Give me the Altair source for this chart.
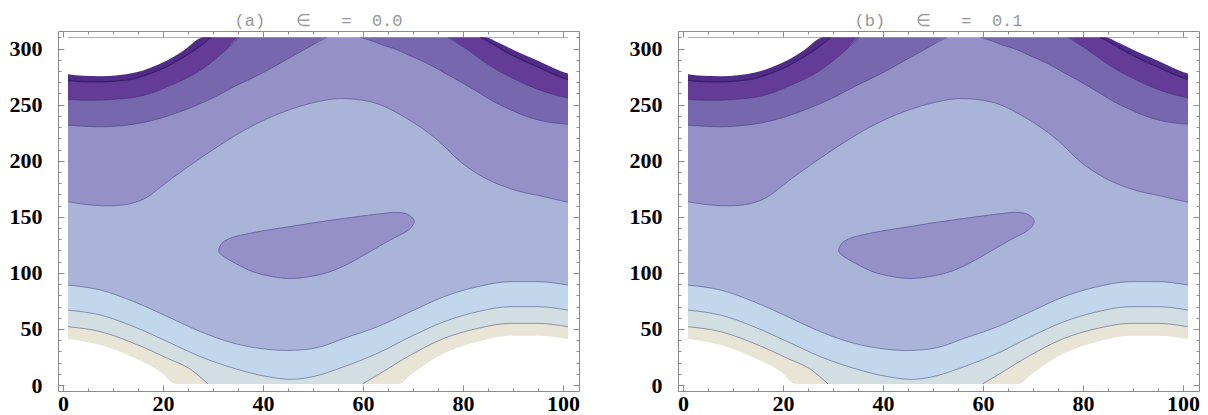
import altair as alt
import pandas as pd

# ---------------- data ----------------
TOP = 310          # upper edge of the contoured grid

NB = "\u00a0"
titles = ["(a)" + NB * 3 + "\u2208" + NB * 3 + "=" + NB * 2 + "0.0",
          "(b)" + NB * 3 + "\u2208" + NB * 3 + "=" + NB * 2 + "0.1"]

x_major = [0, 20, 40, 60, 80, 100]
x_minor = list(range(0, 101, 5))
y_major = [0, 50, 100, 150, 200, 250, 300]
y_minor = list(range(0, 311, 10))

# contour curves: each one is split into the pieces that are visible on the grid
c0_x = [[1, 4, 7.5, 11, 14.2, 17.5, 20.9, 24.2, 28], [84.5, 87, 90.2, 93.5, 96.9, 99, 101]]
c0_y = [[277.2, 275.8, 275.4, 276.3, 278.4, 283, 289.7, 298.6, 310], [310, 305.5, 298.6, 292, 285.2, 281, 277.8]]

c1_x = [[1, 4, 7.5, 11, 14.2, 17.5, 20.9, 24.2, 27, 29.5], [83.5, 86, 89.5, 92, 94.9, 98, 101]]
c1_y = [[271.8, 270.6, 270.4, 271.2, 273.3, 278, 284.3, 292.7, 301, 310], [310, 304, 295, 289.5, 283.8, 277.5, 272.5]]

c2_x = [[1, 4, 7.5, 11, 14.2, 17.5, 20.9, 24.2, 27.5, 30, 32.5, 35.2], [77, 79, 81.5, 84, 86.9, 90, 92.9, 97, 101]]
c2_y = [[254.6, 254, 254, 255, 256.4, 260, 266, 272.5, 280.7, 289, 298.5, 310], [310, 304.5, 297.1, 289, 280.7, 273.5, 267.4, 260.5, 256]]

c3_x = [[1, 4, 7.5, 11, 14.2, 17.5, 20.9, 24.2, 27.5, 30.9, 34.2, 37.5, 40.9, 44.2, 47.5, 50, 52.8],
        [59.5, 62, 64, 66.2, 69.5, 72.9, 76.2, 79.5, 82.9, 86.2, 89.5, 92.9, 97, 101]]
c3_y = [[231.7, 230.8, 230.3, 231, 232.6, 235.5, 239.8, 245, 251, 258, 266, 273, 280.7, 289, 297.1, 303.5, 310],
        [310, 306.5, 303, 300, 293.5, 286.7, 278.5, 270.4, 261.5, 252.6, 245.5, 239.2, 234.5, 232.6]]

c4_x = [[1, 4.2, 8.9, 12, 14.5, 17, 19.5, 22, 24.5, 30.9, 37.5, 44.2, 50.9, 55.5, 61.5, 68.2, 74.9, 79.5, 84.2,
         89.5, 96.2, 101]]
c4_y = [[163.4, 161.2, 159.8, 160.6, 163, 168, 176.5, 185, 193, 212.5, 230.3, 243.7, 252.6, 255.5, 252.6, 239.2,
         218.4, 199, 185, 175, 167.9, 163]]

c5_x = [[1, 7.5, 14.2, 20.9, 27.5, 34.2, 40.9, 44.5, 48, 51, 56.2, 62.9, 69.5, 76.2, 82.9, 89.5, 94.9, 101]]
c5_y = [[89.1, 84.7, 74.3, 61, 47.6, 37.2, 31.8, 30.8, 31.4, 33.5, 41.6, 52, 65.4, 78.8, 87.7, 92.2, 92.2, 89.1]]

c6_x = [[1, 7.5, 14.2, 20.9, 27.5, 34.2, 40.9, 45.5, 50, 56.2, 62.9, 69.5, 76.2, 82.9, 89.5, 94.9, 101]]
c6_y = [[66.8, 62.4, 52, 38.7, 25.3, 14.9, 7.5, 5.1, 7.5, 16.4, 28.3, 43.1, 56.5, 65.4, 69.9, 69.9, 66.8]]

c7_x = [[1, 7.5, 14.2, 20.9, 25.5, 29], [59.9, 62.9, 69.5, 76.2, 82.9, 89.5, 94.9, 101]]
c7_y = [[52, 47.6, 37.2, 23.8, 14, 1], [1, 8.9, 26.7, 41.6, 50.5, 55, 55, 52]]

c8_x = [[1, 7.5, 14.2, 19.5, 22.5], [67.2, 69.5, 76.2, 82.9, 89.5, 94.9, 101]]
c8_y = [[41, 35.7, 24.4, 11.9, 1], [1, 8.9, 28.3, 38.7, 44, 44, 41]]

# closed contour (island) in the middle
blob_x = [31.2, 31.8, 33, 35, 40, 45, 50, 55, 60, 64, 66.5, 68.8, 70.2, 69.8, 68.5, 65.5, 61, 57, 53, 49, 45.5,
          42, 38, 34.5, 32.2, 31.3]
blob_y = [121.5, 126.5, 130, 133, 137.5, 141, 144.6, 147.8, 150.8, 153, 154, 152.5, 147, 141.5, 136.5, 129.5, 118,
          108, 100.5, 96.5, 95.1, 96.6, 101, 108.5, 114.5, 118]

# fill colour of the region lying above each curve
levels = [
    ("c8", c8_x, c8_y, "#e8e5d6"),
    ("c7", c7_x, c7_y, "#d3dee2"),
    ("c6", c6_x, c6_y, "#c2d7ec"),
    ("c5", c5_x, c5_y, "#aab3d8"),
    ("c4", c4_x, c4_y, "#9590c7"),
    ("c3", c3_x, c3_y, "#7767ae"),
    ("c2", c2_x, c2_y, "#643c98"),
    ("c1", c1_x, c1_y, "#512c86"),
    ("c0", c0_x, c0_y, "#ffffff"),
]
line_curves = ["c2", "c3", "c4", "c5", "c6", "c7"]

# ---------------- build the chart ----------------
GRAY = "#8a8a8a"
XS = alt.Scale(domain=[-1.0, 103.2], nice=False, zero=False)
YS = alt.Scale(domain=[-5.3, 315.7], nice=False, zero=False)


def frame(name, xs, ys):
    rows = []
    for p, (px, py) in enumerate(zip(xs, ys)):
        for x, y in zip(px, py):
            rows.append({"x": x, "y": y, "key": f"{name}_{p}"})
    return pd.DataFrame(rows)


def tick_axis(orient, values, size):
    return alt.Axis(orient=orient, values=values, labels=False, domain=False, grid=False, title=None,
                    tickColor=GRAY, tickWidth=1, tickSize={"expr": str(-size)}, minExtent=0)


lab_x = alt.Axis(orient="bottom", values=x_major, ticks=False, tickSize=0, domain=False, grid=False, title=None,
                 labelFont="Liberation Serif", labelFontWeight="bold", labelFontSize=22, labelColor="#000",
                 labelPadding=2, minExtent=0)
lab_y = alt.Axis(orient="left", values=y_major, ticks=False, tickSize=0, domain=False, grid=False, title=None,
                 labelFont="Liberation Serif", labelFontWeight="bold", labelFontSize=22, labelColor="#000",
                 labelPadding=16, minExtent=0)

axis_pairs = [
    (lab_x, lab_y),
    (tick_axis("bottom", x_major, 6), tick_axis("left", y_major, 6)),
    (tick_axis("bottom", x_minor, 3), tick_axis("left", y_minor, 3)),
    (tick_axis("top", x_major, 6), tick_axis("right", y_major, 6)),
    (tick_axis("top", x_minor, 3), tick_axis("right", y_minor, 3)),
]


def panel(title):
    layers = []
    for i, (name, xs, ys, color) in enumerate(levels):
        ax, ay = axis_pairs[i] if i < len(axis_pairs) else (None, None)
        df = frame(name, xs, ys)
        layers.append(
            alt.Chart(df).mark_area(color=color, interpolate="monotone", opacity=1).encode(
                x=alt.X("x:Q", scale=XS, axis=ax),
                y=alt.Y("y:Q", scale=YS, axis=ay),
                y2=alt.Y2Datum(TOP),
            )
        )
    blob_df = pd.DataFrame({"x": blob_x, "y": blob_y, "i": list(range(len(blob_x)))})
    layers.append(
        alt.Chart(blob_df).mark_line(interpolate="cardinal-closed", fill="#9590c7", stroke="#6c67a8",
                                     strokeWidth=1).encode(
            x=alt.X("x:Q", scale=XS, axis=None),
            y=alt.Y("y:Q", scale=YS, axis=None),
            order="i:Q",
        )
    )
    lines_df = pd.concat([frame(n, xs, ys) for (n, xs, ys, _) in levels if n in line_curves])
    layers.append(
        alt.Chart(lines_df).mark_line(interpolate="monotone", stroke="#2e2e66", strokeOpacity=0.45,
                                      strokeWidth=1).encode(
            x=alt.X("x:Q", scale=XS, axis=None),
            y=alt.Y("y:Q", scale=YS, axis=None),
            detail="key:N",
        )
    )
    c1_df = frame("c1", c1_x, c1_y)
    layers.append(
        alt.Chart(c1_df).mark_line(interpolate="monotone", stroke="#2c1660", strokeOpacity=0.7,
                                   strokeWidth=1.3).encode(
            x=alt.X("x:Q", scale=XS, axis=None),
            y=alt.Y("y:Q", scale=YS, axis=None),
            detail="key:N",
        )
    )
    return alt.layer(*layers).resolve_axis(x="independent", y="independent").properties(
        width=521, height=360,
        title=alt.TitleParams(title, font="Liberation Mono", fontSize=17, fontWeight="normal",
                              color="#969696", offset=1, anchor="middle"),
    )


chart = alt.hconcat(panel(titles[0]), panel(titles[1]), spacing=48).properties(
    padding={"left": 0, "right": 0, "top": 3, "bottom": 0}
).configure_view(stroke=GRAY, strokeWidth=1)

chart.save("out.html", embed_options={"renderer": "svg", "actions": False})
